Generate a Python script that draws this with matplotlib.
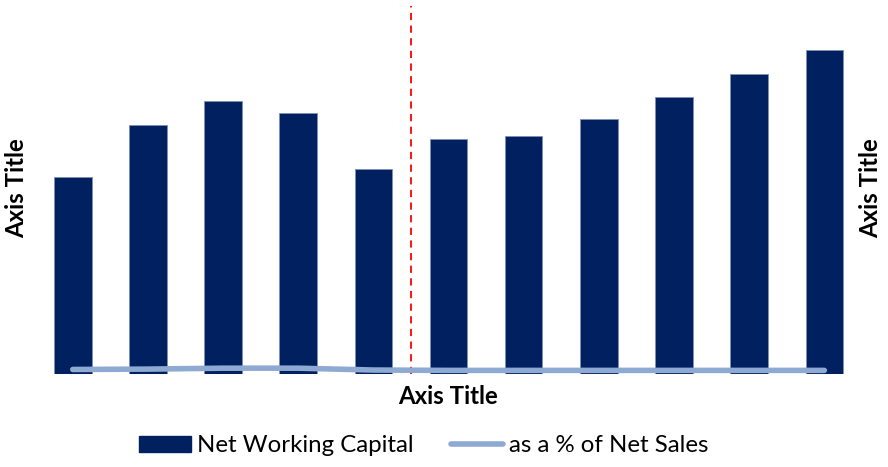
import matplotlib.pyplot as plt
from matplotlib.patches import Patch
from matplotlib.lines import Line2D

# Data
periods = ["1", "2", "3", "4", "5", "6", "7", "8", "9", "10", "11"]
net_working_capital = [197, 249, 273, 261, 205, 235, 238, 255, 277, 300, 324]
pct_of_net_sales = [1.15, 1.25, 1.5, 1.5, 1.0, 0.9, 0.9, 0.9, 0.9, 0.9, 0.9]
split_position = 4.5

bar_color = "#002060"
line_color = "#8EA9D2"

plt.rcParams["font.family"] = ["Lato", "DejaVu Sans"]

fig = plt.figure(figsize=(8.88, 4.67), dpi=100)
ax = fig.add_axes([35.2 / 888, (467 - 373.7) / 467, (861.9 - 35.2) / 888, (373.7 - 6) / 467])

x = range(len(periods))
ax.bar(x, net_working_capital, width=0.5, color=bar_color, edgecolor="#7F90B5", linewidth=0.6, zorder=2)
ax.set_xlim(-0.5, len(periods) - 0.5)
ax.set_ylim(0, 367.7)

# Secondary axis for the percentage line
ax2 = ax.twinx()
ax2.plot(x, pct_of_net_sales, color=line_color, linewidth=4, solid_capstyle="round", zorder=3)
ax2.set_ylim(0, 100)

# Red dashed separator
ax.axvline(split_position, color="#FF0000", linestyle=(0, (4, 3)), linewidth=1.3, zorder=4)

for a in (ax, ax2):
    for s in a.spines.values():
        s.set_visible(False)
    a.set_xticks([])
    a.set_yticks([])

fig.text(17 / 888, 1 - 188 / 467, "Axis Title", rotation=90, ha="center", va="center",
         fontsize=17.3, fontweight="bold")
fig.text(871 / 888, 1 - 188 / 467, "Axis Title", rotation=90, ha="center", va="center",
         fontsize=17.3, fontweight="bold")
fig.text(448 / 888, 1 - 397 / 467, "Axis Title", ha="center", va="center",
         fontsize=17.3, fontweight="bold")

handles = [Patch(facecolor=bar_color, edgecolor=bar_color),
           Line2D([0], [0], color=line_color, linewidth=4, solid_capstyle="round")]
labels = ["Net Working Capital", "as a % of Net Sales"]
fig.legend(handles, labels, loc="center", bbox_to_anchor=(424 / 888, 1 - 446 / 467), ncol=2,
           frameon=False, fontsize=17.3, handlelength=2.17, handleheight=0.62,
           handletextpad=0.25, columnspacing=1.55, borderpad=0)

fig.savefig("out.png", dpi=100)
